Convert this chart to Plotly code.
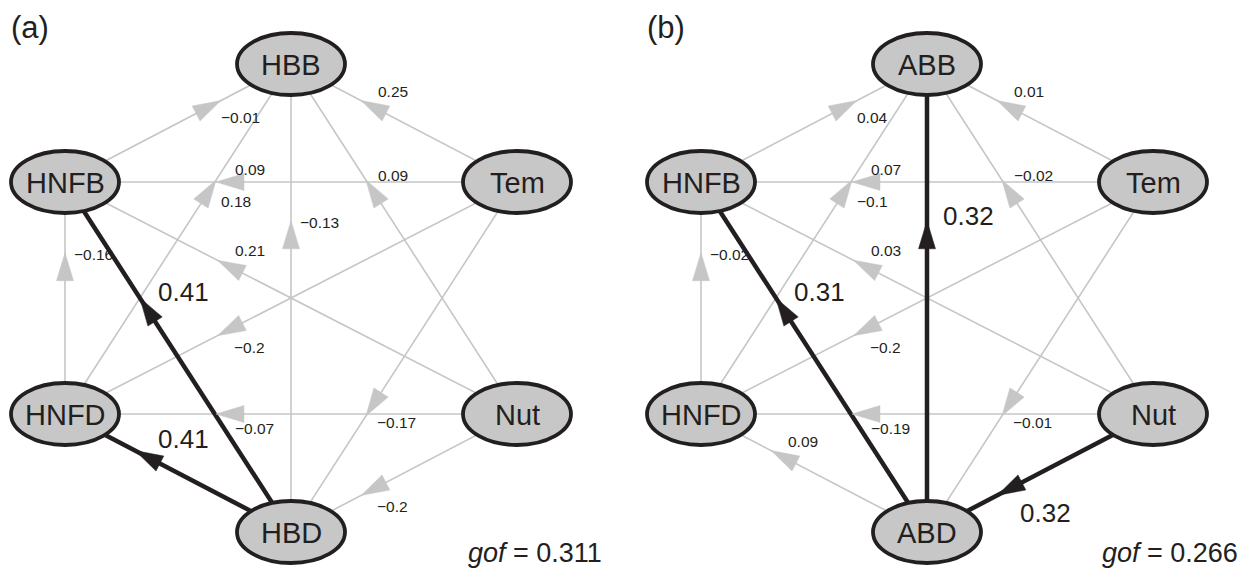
import math
import plotly.graph_objects as go

# ---------------- data ----------------
panel_labels = ["(a)", "(b)"]
gof_values = [0.311, 0.266]

# node names per panel, in slot order: top, upper-left, upper-right, lower-left, lower-right, bottom
nodes_a = ["HBB", "HNFB", "Tem", "HNFD", "Nut", "HBD"]
nodes_b = ["ABB", "HNFB", "Tem", "HNFD", "Nut", "ABD"]

# panel (a) path coefficients
src_a = ["HNFB", "Tem", "Tem", "Nut", "HNFD", "HBD", "Nut", "HNFD", "HBD", "HBD", "Tem", "Nut", "Tem", "Nut"]
tgt_a = ["HBB", "HBB", "HNFB", "HBB", "HBB", "HBB", "HNFB", "HNFB", "HNFB", "HNFD", "HNFD", "HNFD", "HBD", "HBD"]
val_a = [-0.01, 0.25, 0.09, 0.09, 0.18, -0.13, 0.21, -0.16, 0.41, 0.41, -0.2, -0.07, -0.17, -0.2]
sig_a = [0, 0, 0, 0, 0, 0, 0, 0, 1, 1, 0, 0, 0, 0]

# panel (b) path coefficients
src_b = ["HNFB", "Tem", "Tem", "Nut", "HNFD", "ABD", "Nut", "HNFD", "ABD", "ABD", "Tem", "Nut", "Tem", "Nut"]
tgt_b = ["ABB", "ABB", "HNFB", "ABB", "ABB", "ABB", "HNFB", "HNFB", "HNFB", "HNFD", "HNFD", "HNFD", "ABD", "ABD"]
val_b = [0.04, 0.01, 0.07, -0.02, -0.1, 0.32, 0.03, -0.02, 0.31, 0.09, -0.2, -0.19, -0.01, 0.32]
sig_b = [0, 0, 0, 0, 0, 1, 0, 0, 1, 0, 0, 0, 0, 1]

# ---------------- layout / style ----------------
W, H = 1249, 573
SLOTS = [(291, 64), (65, 182), (517, 182), (65, 414), (517, 414), (291, 532)]
PANEL_DX = [0, 636]
RX, RY = 54, 31
FONT = "Liberation Sans, Arial, Helvetica, sans-serif"
BLACK = "#231f20"
GRAY = "#c6c6c6"
NODE_FILL = "#c7c7c7"
T_ARROW = 0.635
AH_LEN, AH_HALF = 28, 8.5


def fmt(v):
    s = ("%.2f" % abs(v)).rstrip("0")
    if s.endswith("."):
        s += "0"
    return ("\u2212" if v < 0 else "") + s


shapes_lines, shapes_heads, shapes_nodes, annotations = [], [], [], []

panels = [(nodes_a, src_a, tgt_a, val_a, sig_a), (nodes_b, src_b, tgt_b, val_b, sig_b)]
for p, (nodes, src, tgt, val, sig) in enumerate(panels):
    dx = PANEL_DX[p]
    pos = {n: (SLOTS[i][0] + dx, SLOTS[i][1]) for i, n in enumerate(nodes)}
    cy_mid = (SLOTS[0][1] + SLOTS[5][1]) / 2
    order = sorted(range(len(src)), key=lambda k: sig[k])  # gray first, black on top
    for k in order:
        x0, y0 = pos[src[k]]
        x1, y1 = pos[tgt[k]]
        bold = sig[k] == 1
        col = BLACK if bold else GRAY
        shapes_lines.append(dict(type="line", x0=x0, y0=y0, x1=x1, y1=y1,
                                 line=dict(color=col, width=4.5 if bold else 1.6)))
        L = math.hypot(x1 - x0, y1 - y0)
        ux, uy = (x1 - x0) / L, (y1 - y0) / L
        nx, ny = -uy, ux
        cx, cy = x0 + (x1 - x0) * T_ARROW, y0 + (y1 - y0) * T_ARROW
        tx, ty = cx + ux * AH_LEN / 2, cy + uy * AH_LEN / 2
        bx, by = cx - ux * AH_LEN / 2, cy - uy * AH_LEN / 2
        path = "M %.1f %.1f L %.1f %.1f L %.1f %.1f Z" % (
            tx, ty, bx + nx * AH_HALF, by + ny * AH_HALF, bx - nx * AH_HALF, by - ny * AH_HALF)
        shapes_heads.append(dict(type="path", path=path, fillcolor=col,
                                 line=dict(color=col, width=0.5)))
        # label offset rule by direction of the edge
        ddx, ddy = x1 - x0, y1 - y0
        if abs(ddx) < 1e-6:          # vertical
            off = (14, -19) if bold else (7, -12)
        elif abs(ddy) < 1e-6:        # horizontal
            off = (3, -13) if cy < cy_mid else (3, 14)
        elif ddx > 0 and ddy < 0:    # up-right
            off = (10, 10)
        elif ddx < 0 and ddy < 0:    # up-left
            off = (9, -18) if bold else (3, -16)
        else:                        # down-left
            off = (9, 24) if bold else (2, 18)
        annotations.append(dict(x=cx + off[0], y=cy + off[1], text=fmt(val[k]),
                                xanchor="left", yanchor="middle", showarrow=False,
                                font=dict(family=FONT, size=26 if bold else 15.5, color=BLACK)))
    for n, (x, y) in pos.items():
        shapes_nodes.append(dict(type="circle", x0=x - RX, x1=x + RX, y0=y - RY, y1=y + RY,
                                 fillcolor=NODE_FILL, line=dict(color=BLACK, width=3.8)))
        annotations.append(dict(x=x, y=y + 1, text=n, showarrow=False, xanchor="center",
                                yanchor="middle", font=dict(family=FONT, size=29, color=BLACK)))
    annotations.append(dict(x=9 + dx, y=27, text=panel_labels[p], showarrow=False,
                            xanchor="left", yanchor="middle",
                            font=dict(family=FONT, size=31, color=BLACK)))
    annotations.append(dict(x=604 + dx, y=553, text="<i>gof</i> = %.3f" % gof_values[p],
                            showarrow=False, xanchor="right", yanchor="middle",
                            font=dict(family=FONT, size=27, color=BLACK)))

fig = go.Figure()
fig.update_layout(
    width=W, height=H, margin=dict(l=0, r=0, t=0, b=0),
    paper_bgcolor="white", plot_bgcolor="white",
    xaxis=dict(range=[0, W], visible=False, fixedrange=True),
    yaxis=dict(range=[H, 0], visible=False, fixedrange=True),
    shapes=shapes_lines + shapes_heads + shapes_nodes,
    annotations=annotations,
    showlegend=False,
)
fig.write_html("out.html", config={"displayModeBar": False},
               post_script="document.body.style.margin='0';")
